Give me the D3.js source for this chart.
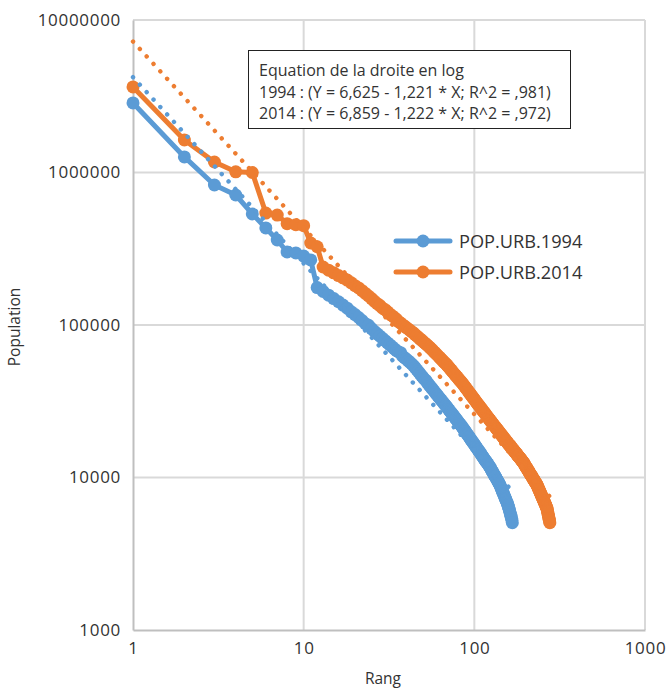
<!DOCTYPE html>
<html>
<head>
<meta charset="utf-8">
<script src="https://cdn.jsdelivr.net/npm/d3@7"></script>
<style>
  body { margin: 0; background: #fff; }
  svg { display: block; }
  text { font-family: "Open Sans", sans-serif; fill: #333; }
</style>
</head>
<body>
<svg id="chart" width="667" height="688"></svg>
<script>
// Urban population by rank (rank = position in the list, 1-based)
const pop1994 = [
  2860000, 1265000, 828000, 712000, 535000, 433000, 361000, 301000, 297000, 283000,
  267000, 176000, 166000, 157000, 149000, 142000, 135000, 129000, 122000, 117000,
  112000, 107000, 102000, 99500, 94800, 90800, 87500, 84500, 81600, 78900,
  76400, 74100, 71900, 69800, 67900, 66500, 65800, 62400, 61100, 59600,
  58200, 56800, 55500, 54100, 52500, 50900, 49400, 48000, 46600, 45400,
  44100, 43300, 41900, 40800, 39700, 38800, 37800, 36900, 36100, 35200,
  34400, 33600, 32900, 32200, 31500, 30800, 30200, 29600, 29000, 28400,
  27800, 27200, 26700, 26200, 25700, 25300, 24600, 24300, 23800, 23400,
  22900, 22500, 22200, 21800, 21400, 21000, 20600, 20300, 19900, 19500,
  19200, 18900, 18500, 18200, 17900, 17600, 17300, 17000, 16800, 16500,
  16200, 16000, 15700, 15500, 15200, 15000, 14800, 14600, 14300, 14100,
  13900, 13700, 13500, 13300, 13100, 12900, 12800, 12600, 12400, 12300,
  12100, 11900, 11800, 11600, 11400, 11200, 11000, 10900, 10700, 10500,
  10400, 10200, 10100, 9930, 9780, 9640, 9500, 9360, 9220, 9090,
  8970, 8810, 8640, 8470, 8300, 8140, 7990, 7840, 7690, 7550,
  7410, 7280, 7150, 7020, 6900, 6780, 6650, 6500, 6340, 6180,
  6020, 5870, 5730, 5580, 5440, 5250, 5050
];
const pop2014 = [
  3640000, 1633000, 1172000, 1010000, 1000000, 542000, 526000, 462000, 455000, 448000,
  345000, 326000, 240000, 229000, 220000, 211000, 204000, 197000, 189000, 181000,
  175000, 168000, 161000, 155000, 149000, 143000, 138000, 134000, 129000, 126000,
  122000, 118000, 115000, 112000, 109000, 105000, 103000, 100400, 98200, 96100,
  94100, 92200, 90300, 88500, 86500, 84700, 82900, 81200, 79600, 78000,
  76500, 75100, 73700, 72300, 71100, 69600, 68200, 66800, 65600, 64300,
  63100, 61900, 60800, 59700, 58600, 57600, 56600, 55700, 54800, 53700,
  52700, 51700, 50800, 49900, 49000, 48100, 47300, 46500, 45700, 45000,
  44200, 43500, 42800, 42200, 41500, 40800, 40100, 39400, 38700, 38100,
  37500, 36900, 36200, 35700, 35100, 34600, 34000, 33500, 33000, 32500,
  32000, 31500, 31100, 30600, 30200, 29800, 29400, 29000, 28600, 28200,
  27800, 27500, 27100, 26800, 26400, 26100, 25700, 25400, 25100, 24800,
  24500, 24200, 23900, 23600, 23400, 23100, 22800, 22600, 22300, 22100,
  21800, 21600, 21400, 21100, 20900, 20700, 20500, 20300, 20000, 19900,
  19600, 19500, 19200, 19100, 18900, 18700, 18500, 18300, 18100, 18000,
  17800, 17600, 17500, 17300, 17100, 17000, 16800, 16700, 16500, 16400,
  16300, 16100, 16000, 15800, 15700, 15600, 15500, 15300, 15200, 15100,
  15000, 14800, 14700, 14600, 14500, 14400, 14300, 14100, 14000, 13900,
  13800, 13700, 13600, 13500, 13400, 13300, 13200, 13100, 13000, 12900,
  12800, 12700, 12600, 12500, 12400, 12300, 12200, 12000, 11900, 11800,
  11700, 11600, 11500, 11400, 11300, 11200, 11100, 11000, 10900, 10800,
  10700, 10600, 10500, 10400, 10350, 10250, 10200, 10100, 10000, 9920,
  9840, 9750, 9670, 9590, 9510, 9440, 9360, 9280, 9210, 9140,
  9060, 8990, 8920, 8820, 8720, 8620, 8530, 8430, 8340, 8260,
  8170, 8080, 7990, 7910, 7820, 7740, 7660, 7580, 7500, 7420,
  7350, 7270, 7200, 7120, 7050, 6980, 6910, 6840, 6770, 6700,
  6640, 6570, 6510, 6440, 6380, 6310, 6190, 6070, 5940, 5820,
  5700, 5590, 5470, 5370, 5260, 5160, 5050
];

const seriesNames = ["POP.URB.1994", "POP.URB.2014"];
const seriesColors = ["#5B9BD5", "#ED7D31"];
// log10(pop) = intercept - slope * log10(rank)
const fitIntercept = [6.625, 6.859];
const fitSlope = [1.221, 1.222];
const xTicks = [1, 10, 100, 1000];
const yTicks = [1000, 10000, 100000, 1000000, 10000000];
const noteLines = [
  "Equation de la droite en log",
  "1994 : (Y = 6,625 - 1,221 * X; R^2 = ,981)",
  "2014 : (Y = 6,859 - 1,222 * X; R^2 = ,972)"
];

const svg = d3.select("#chart");
const plotL = 133, plotR = 645, plotT = 20, plotB = 630;

const x = d3.scaleLog().domain([1, 1000]).range([plotL, plotR]);
const y = d3.scaleLog().domain([1000, 10000000]).range([plotB, plotT]);

// gridlines
const grid = svg.append("g");
grid.selectAll("line.v").data(xTicks.slice(1)).join("line")
  .attr("x1", d => x(d)).attr("x2", d => x(d))
  .attr("y1", plotT).attr("y2", plotB)
  .attr("stroke", "#d9d9d9").attr("stroke-width", 2);
grid.selectAll("line.h").data(yTicks.slice(1)).join("line")
  .attr("x1", plotL).attr("x2", plotR)
  .attr("y1", d => y(d)).attr("y2", d => y(d))
  .attr("stroke", "#d9d9d9").attr("stroke-width", 2);

// axes
const yAxis = svg.append("g").attr("transform", `translate(${plotL},0)`)
  .call(d3.axisLeft(y).tickValues(yTicks).tickFormat(d3.format("d")).tickSize(0).tickPadding(12));
const xAxis = svg.append("g").attr("transform", `translate(0,${plotB})`)
  .call(d3.axisBottom(x).tickValues(xTicks).tickFormat(d3.format("d")).tickSize(0).tickPadding(12));
[yAxis, xAxis].forEach(g => {
  g.select(".domain").attr("stroke", "#bfbfbf").attr("stroke-width", 2);
  g.selectAll("text").attr("font-size", 17).attr("font-family", "Open Sans, sans-serif")
    .attr("fill", "#333").attr("letter-spacing", 0.7);
});

svg.append("text").attr("transform", `translate(20,${(plotT + plotB) / 2 + 2}) rotate(-90)`)
  .attr("text-anchor", "middle").attr("font-size", 15.5).text("Population");
svg.append("text").attr("x", (plotL + plotR) / 2 - 6).attr("y", 684)
  .attr("text-anchor", "middle").attr("font-size", 15.5).text("Rang");

// series
const series = [pop1994, pop2014].map((vals, i) => ({
  name: seriesNames[i], color: seriesColors[i],
  points: vals.map((v, k) => ({ r: k + 1, v }))
}));
const line = d3.line().x(d => x(d.r)).y(d => y(d.v));

series.forEach(s => {
  const g = svg.append("g");
  g.append("path").attr("d", line(s.points)).attr("fill", "none")
    .attr("stroke", s.color).attr("stroke-width", 5)
    .attr("stroke-linejoin", "round").attr("stroke-linecap", "round");
  g.selectAll("circle").data(s.points).join("circle")
    .attr("cx", d => x(d.r)).attr("cy", d => y(d.v)).attr("r", 6.5)
    .attr("fill", s.color);
});

// power-law trend lines (straight in log-log space)
series.forEach((s, i) => {
  const n = s.points.length;
  const ends = [1, n].map(r => ({ r, v: Math.pow(10, fitIntercept[i] - fitSlope[i] * Math.log10(r)) }));
  svg.append("path").attr("d", line(ends)).attr("fill", "none")
    .attr("stroke", s.color).attr("stroke-width", 4.4)
    .attr("stroke-linecap", "round").attr("stroke-dasharray", "0.1 10");
});

// legend
const legend = svg.append("g");
series.forEach((s, i) => {
  const ly = 241 + i * 31;
  legend.append("line").attr("x1", 396).attr("x2", 450).attr("y1", ly).attr("y2", ly)
    .attr("stroke", s.color).attr("stroke-width", 5).attr("stroke-linecap", "round");
  legend.append("circle").attr("cx", 423).attr("cy", ly).attr("r", 6.5).attr("fill", s.color);
  legend.append("text").attr("x", 459).attr("y", ly).attr("dy", "0.36em")
    .attr("font-size", 18.2).text(s.name);
});

// equation box
const note = svg.append("g");
note.append("rect").attr("x", 248.5).attr("y", 50.5).attr("width", 322).attr("height", 78)
  .attr("fill", "#fff").attr("stroke", "#222").attr("stroke-width", 1);
noteLines.forEach((t, i) => {
  note.append("text").attr("x", 259).attr("y", 76 + i * 21.5)
    .attr("font-size", 16).text(t);
});
</script>
</body>
</html>
